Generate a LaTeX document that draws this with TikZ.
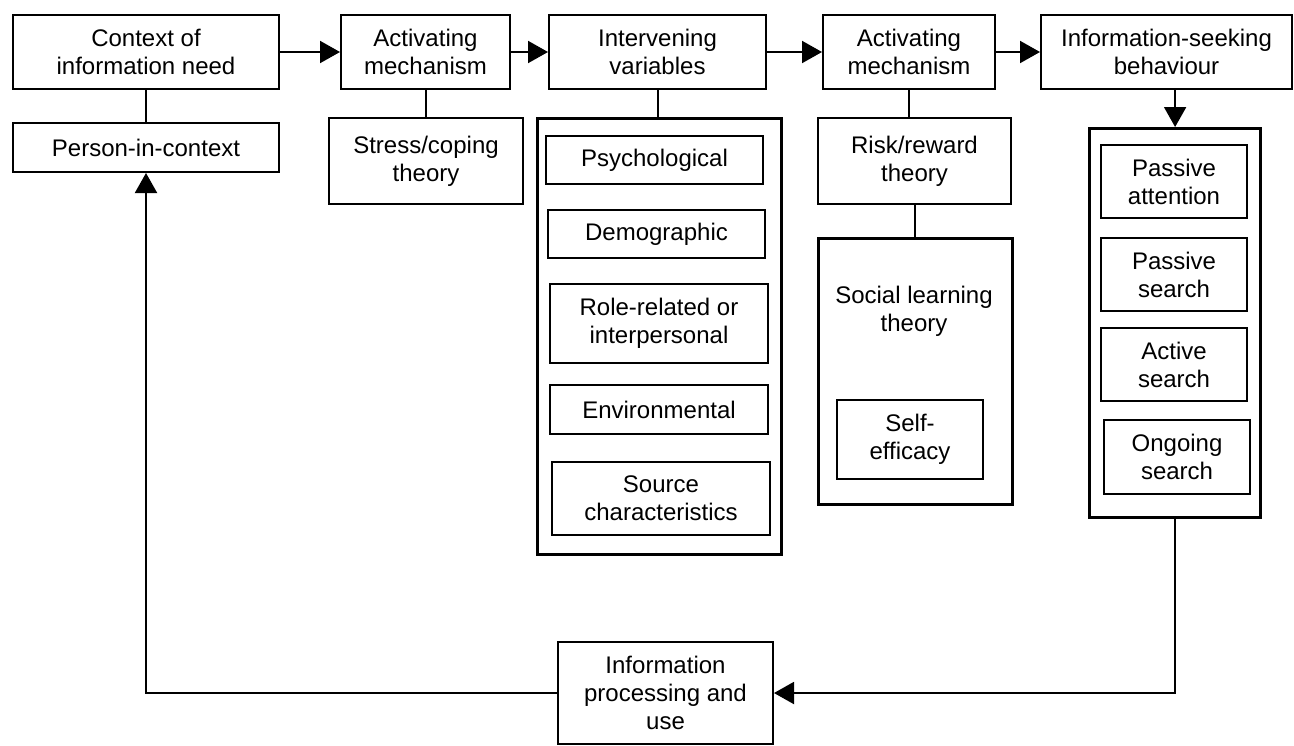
\documentclass[tikz,border=0pt]{standalone}
\usepackage{fontspec}
\setmainfont{Liberation Sans}
\usetikzlibrary{arrows.meta}
\tikzset{
  box/.style={draw, line width=1pt, anchor=north west, align=center, inner sep=0pt,
    font=\fontsize{12}{14}\selectfont},
  container/.style={draw, line width=1.6pt, anchor=north west, inner sep=0pt},
  conn/.style={line width=1pt},
  arr/.style={conn, -{Triangle[length=10pt,width=11pt]}},
  lbl/.style={align=center, inner sep=0pt, font=\fontsize{12}{14}\selectfont}
}
\begin{document}
\begin{tikzpicture}[x=0.5pt,y=-0.5pt]
\useasboundingbox (0,0) rectangle (1294,745);
% top row
\node[box, minimum width=133pt, minimum height=37pt] (c1) at (12,14) {Context of\\information need};
\node[box, minimum width=84.5pt, minimum height=37pt] (a1) at (340,14) {Activating\\mechanism};
\node[box, minimum width=108.5pt, minimum height=37pt] (iv) at (548,14) {Intervening\\variables};
\node[box, minimum width=86pt, minimum height=37pt] (a2) at (822,14) {Activating\\mechanism};
\node[box, minimum width=125.5pt, minimum height=37pt] (isb) at (1040,14) {Information-seeking\\behaviour};
% second row
\node[box, minimum width=133pt, minimum height=24.5pt] (pic) at (12,122) {Person-in-context};
\node[box, minimum width=97pt, minimum height=43pt] (sc) at (328,117) {Stress/coping\\theory};
% intervening variables container
\node[container, minimum width=122pt, minimum height=218pt] (ivbox) at (536,117) {};
\node[box, minimum width=108.5pt, minimum height=24pt] (psy) at (545,135) {Psychological};
\node[box, minimum width=108.5pt, minimum height=24pt] (dem) at (547,209) {Demographic};
\node[box, minimum width=109pt, minimum height=39.5pt] (role) at (549,283) {Role-related or\\interpersonal};
\node[box, minimum width=109pt, minimum height=24.5pt] (env) at (549,384) {Environmental};
\node[box, minimum width=109pt, minimum height=36.5pt] (src) at (551,461) {Source\\characteristics};
% risk/reward
\node[box, minimum width=96.5pt, minimum height=43pt] (rr) at (817,117) {Risk/reward\\theory};
\node[container, minimum width=97pt, minimum height=133pt] (slt) at (817,237) {};
\node[lbl] (slttext) at (914,311) {Social learning\\theory};
\node[box, minimum width=73pt, minimum height=39.5pt] (se) at (836,399) {Self-\\efficacy};
% information-seeking container
\node[container, minimum width=85.5pt, minimum height=194.5pt] (isbbox) at (1088,127) {};
\node[box, minimum width=73pt, minimum height=36.5pt] (pa) at (1100,144) {Passive\\attention};
\node[box, minimum width=73pt, minimum height=36.5pt] (ps) at (1100,237) {Passive\\search};
\node[box, minimum width=73pt, minimum height=36.5pt] (as) at (1100,327) {Active\\search};
\node[box, minimum width=73pt, minimum height=37pt] (os) at (1103,419) {Ongoing\\search};
% bottom
\node[box, minimum width=107.5pt, minimum height=51pt] (ipu) at (557,641) {Information\\processing and\\use};
% connectors
\draw[arr] (c1) -- (a1);
\draw[arr] (a1) -- (iv);
\draw[arr] (iv) -- (a2);
\draw[arr] (a2) -- (isb);
\draw[conn] (c1.south) -- (pic.north);
\draw[conn] (a1.south) -- (a1.south |- sc.north);
\draw[conn] (iv.south) -- (iv.south |- ivbox.north);
\draw[conn] (a2.south) -- (a2.south |- rr.north);
\draw[conn] (rr.south) -- (rr.south |- slt.north);
\draw[arr] (isbbox.north |- isb.south) -- (isbbox.north);
\draw[arr] (isbbox.south) |- (ipu.east);
\draw[arr] (ipu.west) -| (pic.south);
\end{tikzpicture}
\end{document}
